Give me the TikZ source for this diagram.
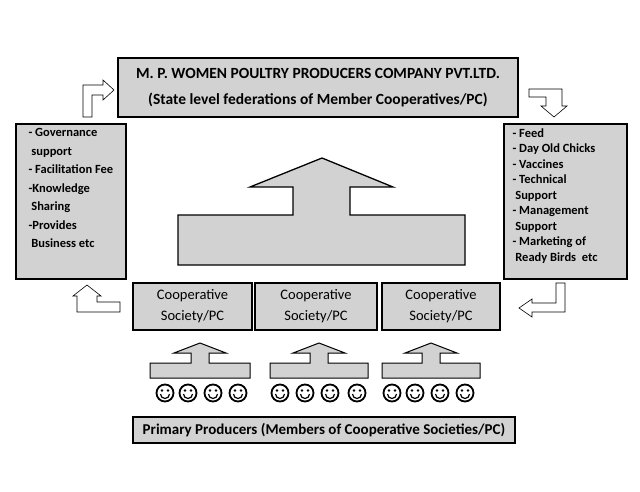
\documentclass[tikz,border=0pt]{standalone}
\usepackage{fontspec}
\setmainfont{Carlito}
\usetikzlibrary{positioning}
\tikzset{
  box/.style={draw=black, line width=1.6pt, fill=gray!35, inner sep=0pt},
  blk/.style={draw=black, line width=1pt, fill=gray!35, line join=miter},
  wht/.style={draw=black, line width=0.6pt, fill=white},
  face/.style={draw=black, line width=1.8pt, fill=white},
}
\newcommand{\smiley}[2]{%
  \draw[face] (#1,#2) circle (8.5);
  \fill (#1-3,#2-2.5) circle (1.4) (#1+3,#2-2.5) circle (1.4);
  \draw[line width=1.2pt] (#1-4.5,#2+1) arc[start angle=180, end angle=0, radius=4.5];}
\newcommand{\feedarrow}[3]{% left x, right x, base y
  \pgfmathsetmacro{\midx}{(#1+#2)/2}
  \draw[blk] (#1,#3) -- (#2,#3) -- (#2,#3-15) -- (\midx+9,#3-15) -- (\midx+9,#3-25)
    -- (\midx+26,#3-25) -- (\midx,#3-35) -- (\midx-26,#3-25) -- (\midx-9,#3-25)
    -- (\midx-9,#3-15) -- (#1,#3-15) -- cycle;}
\begin{document}
\begin{tikzpicture}[x=1pt,y=-1pt]
\useasboundingbox (0,0) rectangle (640,491);

% company box
\node[box, minimum width=400, minimum height=59, align=center, font=\bfseries\fontsize{15.5}{26}\selectfont]
  (company) at (318,87.5) {M. P. WOMEN POULTRY PRODUCERS COMPANY PVT.LTD.\\(State level federations of Member Cooperatives/PC)};

% side boxes
\node[box, minimum width=110, minimum height=155, anchor=north west] (services) at (15,123) {};
\node[anchor=north west, align=left, font=\bfseries\fontsize{12.5}{18.5}\selectfont] at (services.north west)
  [xshift=10pt, yshift=-2pt] {- Governance\\\ support\\- Facilitation Fee\\-Knowledge\\\ Sharing\\-Provides\\\ Business etc};
\node[box, minimum width=123, minimum height=155, anchor=north west] (inputs) at (503,123) {};
\node[anchor=north west, align=left, font=\bfseries\fontsize{12.5}{15.5}\selectfont] at (inputs.north west)
  [xshift=6pt, yshift=-2pt] {- Feed\\- Day Old Chicks\\- Vaccines\\- Technical\\\ Support\\- Management\\\ Support\\- Marketing of\\\ Ready Birds\ \ etc};

% cooperative societies
\tikzset{coop/.style={box, minimum height=47, align=center, font=\fontsize{14.5}{21}\selectfont}}
\node[coop, minimum width=119] (coopa) at (192.5,306.5) {Cooperative\\Society/PC};
\node[coop, minimum width=122] (coopb) at (316,306.5) {Cooperative\\Society/PC};
\node[coop, minimum width=118] (coopc) at (441,306.5) {Cooperative\\Society/PC};

% primary producers
\node[box, minimum width=382, minimum height=26, font=\bfseries\fontsize{15}{16}\selectfont]
  (primary) at (324,430) {Primary Producers (Members of Cooperative Societies/PC)};

% big arrow
\draw[blk, line width=1.3pt] (178,265) -- (465,265) -- (465,215) -- (350,215) -- (350,187)
  -- (393,187) -- (322,158) -- (250,187) -- (293,187) -- (293,215) -- (178,215) -- cycle;

% small arrows
\feedarrow{150}{250}{378}
\feedarrow{270}{368}{378}
\feedarrow{382}{480}{378}

% faces
\foreach \x in {165,188,213,238,280,305,330,357,392,415,440,465} {\smiley{\x}{393}}

% cycle arrows
\draw[wht] (83,117) -- (83,85) -- (103,85) -- (103,80) -- (114,90) -- (103,100)
  -- (103,95) -- (92,95) -- (92,117) -- cycle;
\draw[wht] (529,89) -- (562,89) -- (562,106) -- (567,106) -- (554,117) -- (541,106)
  -- (546,106) -- (546,97) -- (529,97) -- cycle;
\draw[wht] (565,283) -- (565,312) -- (532,312) -- (532,317) -- (519,308) -- (532,299)
  -- (532,303) -- (556,303) -- (556,283) -- cycle;
\draw[wht] (120,302) -- (97,302) -- (97,296) -- (101,296) -- (87,285) -- (73,296)
  -- (77,296) -- (77,312) -- (120,312) -- cycle;
\end{tikzpicture}
\end{document}
